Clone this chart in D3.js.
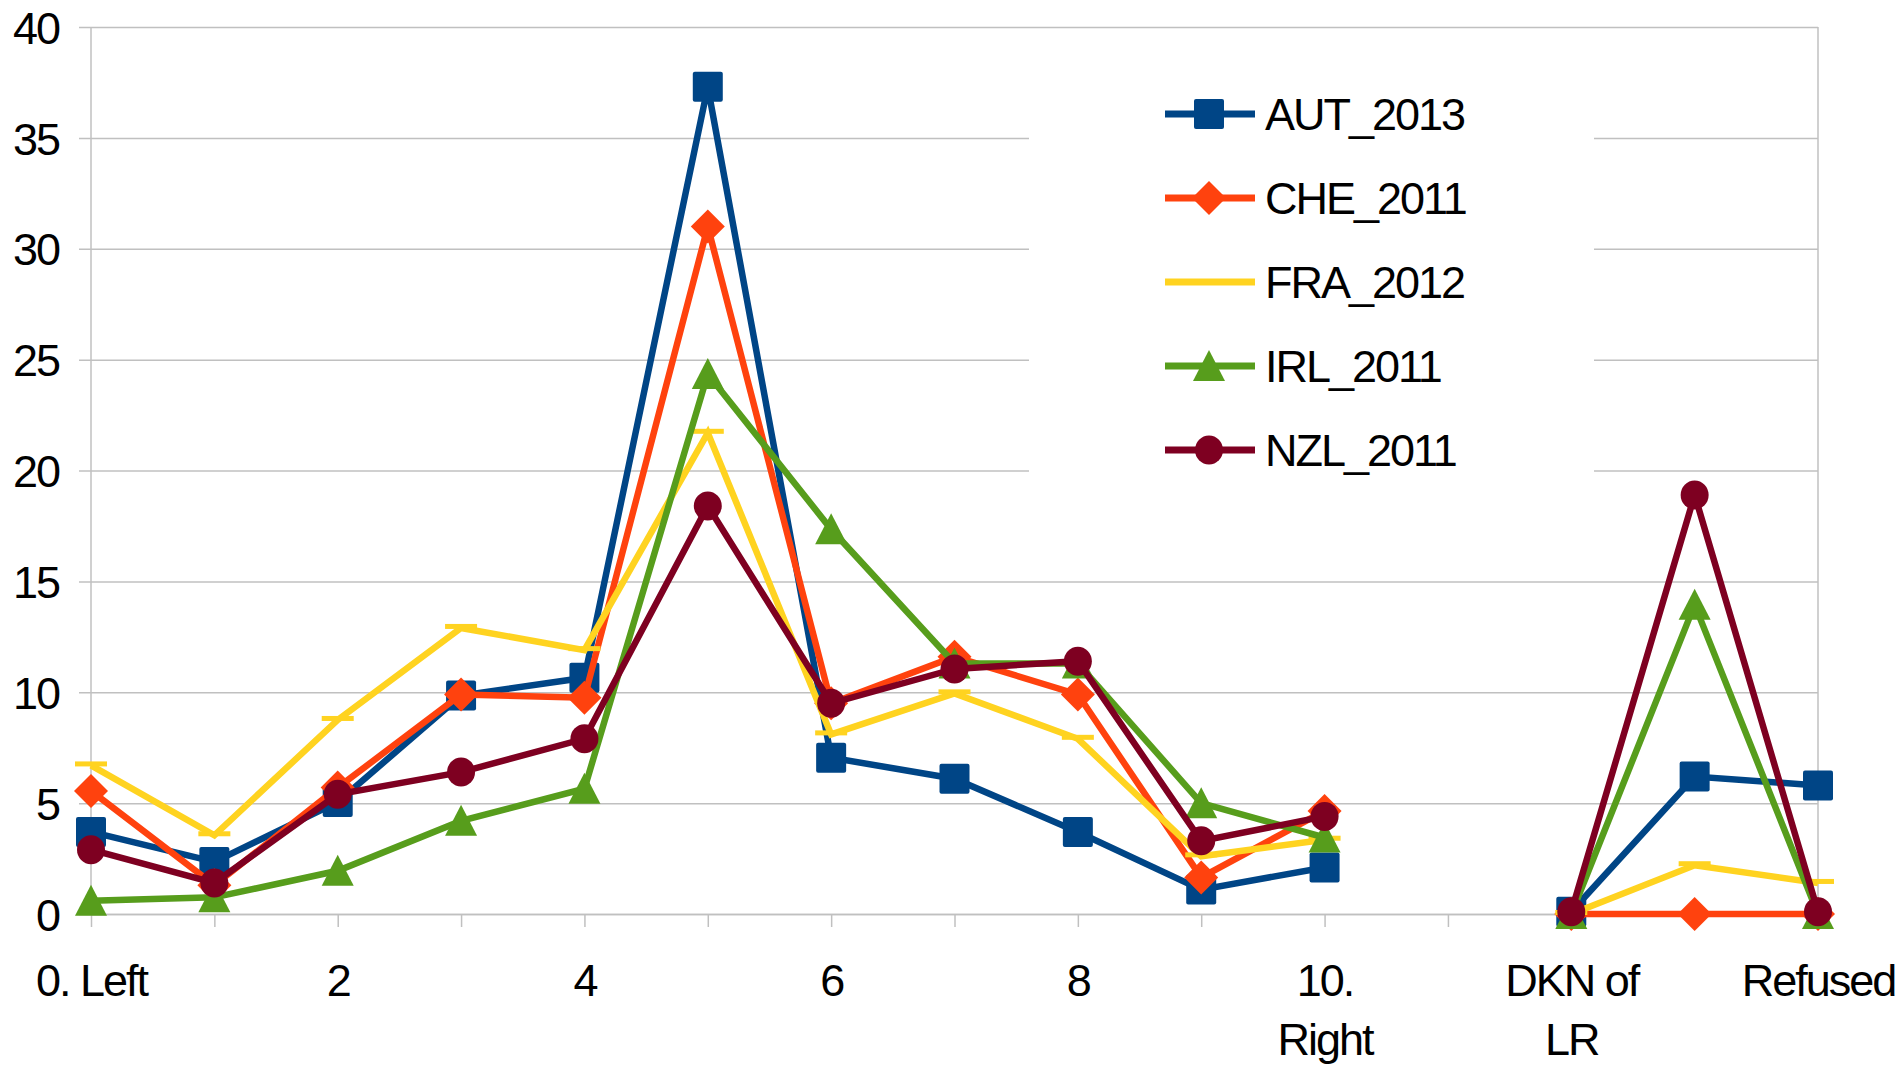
<!DOCTYPE html>
<html>
<head>
<meta charset="utf-8">
<script src="https://cdn.jsdelivr.net/npm/d3@7"></script>
<style>
  body { margin: 0; background: #fff; }
  text { font-family: "Liberation Sans", Arial, sans-serif; fill: #000; }
</style>
</head>
<body>
<script>
// categories along the x axis (only every other one gets a label)
const categories = ["0. Left", "1", "2", "3", "4", "5", "6", "7", "8", "9", "10. Right", "Other", "DKN of LR", "DK", "Refused"];
const tickLabels = ["0. Left", "", "2", "", "4", "", "6", "", "8", "", "10.\nRight", "", "DKN of\nLR", "", "Refused"];
const yTicks = [0, 5, 10, 15, 20, 25, 30, 35, 40];

const seriesNames = ["AUT_2013", "CHE_2011", "FRA_2012", "IRL_2011", "NZL_2011"];
const AUT_2013 = [3.7, 2.35, 5.05, 9.85, 10.65, 37.3, 7.05, 6.1, 3.7, 1.1, 2.1, null, 0.1, 6.2, 5.8];
const CHE_2011 = [5.55, 1.3, 5.7, 9.9, 9.75, 31.0, 9.5, 11.6, 9.9, 1.65, 4.65, null, 0, 0, 0];
const FRA_2012 = [6.7, 3.55, 8.75, 12.9, 11.9, 21.7, 8.1, 9.95, 7.9, 2.6, 3.35, null, 0, 2.2, 1.4];
const IRL_2011 = [0.6, 0.75, 1.95, 4.2, 5.65, 24.35, 17.35, 11.3, 11.3, 5.0, 3.45, null, 0, 13.95, 0];
const NZL_2011 = [2.9, 1.4, 5.4, 6.4, 7.9, 18.4, 9.5, 11.05, 11.4, 3.3, 4.4, null, 0.1, 18.9, 0.1];

const colors = ["#004586", "#ff420e", "#ffd320", "#579d1c", "#7e0021"];
const symbols = ["square", "diamond", "bar", "triangle", "circle"];

const series = seriesNames.map((name, i) => ({
  name: name,
  values: [AUT_2013, CHE_2011, FRA_2012, IRL_2011, NZL_2011][i],
  color: colors[i],
  symbol: symbols[i]
}));

const W = 1903, H = 1067;
const margin = {top: 27, right: 85, bottom: 153, left: 91};
const width = W - margin.left - margin.right,
      height = H - margin.top - margin.bottom;

const svg = d3.select("body").append("svg")
  .attr("width", W)
  .attr("height", H);

svg.append("rect").attr("width", W).attr("height", H).attr("fill", "#fff");

const g = svg.append("g")
  .attr("transform", "translate(" + margin.left + "," + margin.top + ")");

const x = d3.scalePoint()
  .domain(categories)
  .range([0, width])
  .padding(0);

const y = d3.scaleLinear()
  .domain([0, 40])
  .range([height, 0]);

const grid = "#c0c0c0";

// horizontal gridlines + y axis labels
const yAxis = g.append("g")
  .call(d3.axisLeft(y).tickValues(yTicks).tickSize(-width).tickPadding(32).tickSizeOuter(0));
yAxis.select(".domain").remove();
yAxis.selectAll(".tick line").attr("stroke", grid).attr("stroke-width", 1.5).attr("x1", -12);
yAxis.selectAll(".tick text")
  .style("font-size", "45px")
  .style("letter-spacing", "-2px")
  .attr("dy", "0.36em");

// left axis line and right border
g.append("line").attr("x1", 0).attr("x2", 0).attr("y1", 0).attr("y2", height)
  .attr("stroke", grid).attr("stroke-width", 1.5);
g.append("line").attr("x1", width).attr("x2", width).attr("y1", 0).attr("y2", height)
  .attr("stroke", grid).attr("stroke-width", 1.5);

// x axis
const xAxis = g.append("g")
  .attr("transform", "translate(0," + height + ")")
  .call(d3.axisBottom(x).tickSize(13).tickSizeOuter(0).tickFormat(""));
xAxis.select(".domain").attr("stroke", grid).attr("stroke-width", 1.5);
xAxis.selectAll(".tick line").attr("stroke", grid).attr("stroke-width", 1.5);

xAxis.selectAll(".tick").each(function(d, i) {
  const lines = tickLabels[i].split("\n");
  const t = d3.select(this).append("text")
    .attr("text-anchor", "middle")
    .style("font-size", "45px")
    .style("letter-spacing", "-2px");
  lines.forEach((ln, k) => {
    t.append("tspan").attr("x", 0).attr("y", 82 + k * 59).text(ln);
  });
});

// draw one marker
function marker(sel, sym, color) {
  if (sym === "square") {
    sel.append("rect").attr("x", -15).attr("y", -15).attr("width", 30).attr("height", 30)
      .attr("rx", 2).attr("fill", color);
  } else if (sym === "diamond") {
    sel.append("path").attr("d", "M0,-17L17,0L0,17L-17,0Z").attr("fill", color);
  } else if (sym === "bar") {
    sel.append("rect").attr("x", -16).attr("y", -4).attr("width", 32).attr("height", 5).attr("fill", color);
  } else if (sym === "triangle") {
    sel.append("path").attr("d", "M0,-16L16,15L-16,15Z").attr("fill", color);
  } else {
    sel.append("ellipse").attr("rx", 14).attr("ry", 14.5).attr("fill", color);
  }
}

const line = d3.line()
  .defined(d => d.v != null)
  .x(d => x(d.c))
  .y(d => y(d.v));

series.forEach(s => {
  const pts = s.values.map((v, i) => ({c: categories[i], v: v}));
  const sg = g.append("g");
  sg.append("path")
    .datum(pts)
    .attr("fill", "none")
    .attr("stroke", s.color)
    .attr("stroke-width", 6.5)
    .attr("stroke-linejoin", "miter")
    .attr("d", line);
  sg.selectAll("g.pt")
    .data(pts.filter(d => d.v != null))
    .enter().append("g")
    .attr("class", "pt")
    .attr("transform", d => "translate(" + x(d.c) + "," + y(d.v) + ")")
    .each(function() { marker(d3.select(this), s.symbol, s.color); });
});

// legend
const legend = svg.append("g");
legend.append("rect")
  .attr("x", 1029).attr("y", 55).attr("width", 565).attr("height", 450)
  .attr("fill", "#fff");

const legendRow = d3.scalePoint().domain(seriesNames).range([114, 450]);

series.forEach(s => {
  const row = legend.append("g").attr("transform", "translate(0," + legendRow(s.name) + ")");
  row.append("line").attr("x1", 1165).attr("x2", 1255).attr("y1", 0).attr("y2", 0)
    .attr("stroke", s.color).attr("stroke-width", 7);
  if (s.symbol !== "bar") {
    const m = row.append("g").attr("transform", "translate(1209,0)");
    marker(m, s.symbol, s.color);
  }
  row.append("text")
    .attr("x", 1265).attr("y", 0).attr("dy", "0.36em")
    .style("font-size", "45px")
    .style("letter-spacing", "-2px")
    .text(s.name);
});
</script>
</body>
</html>
